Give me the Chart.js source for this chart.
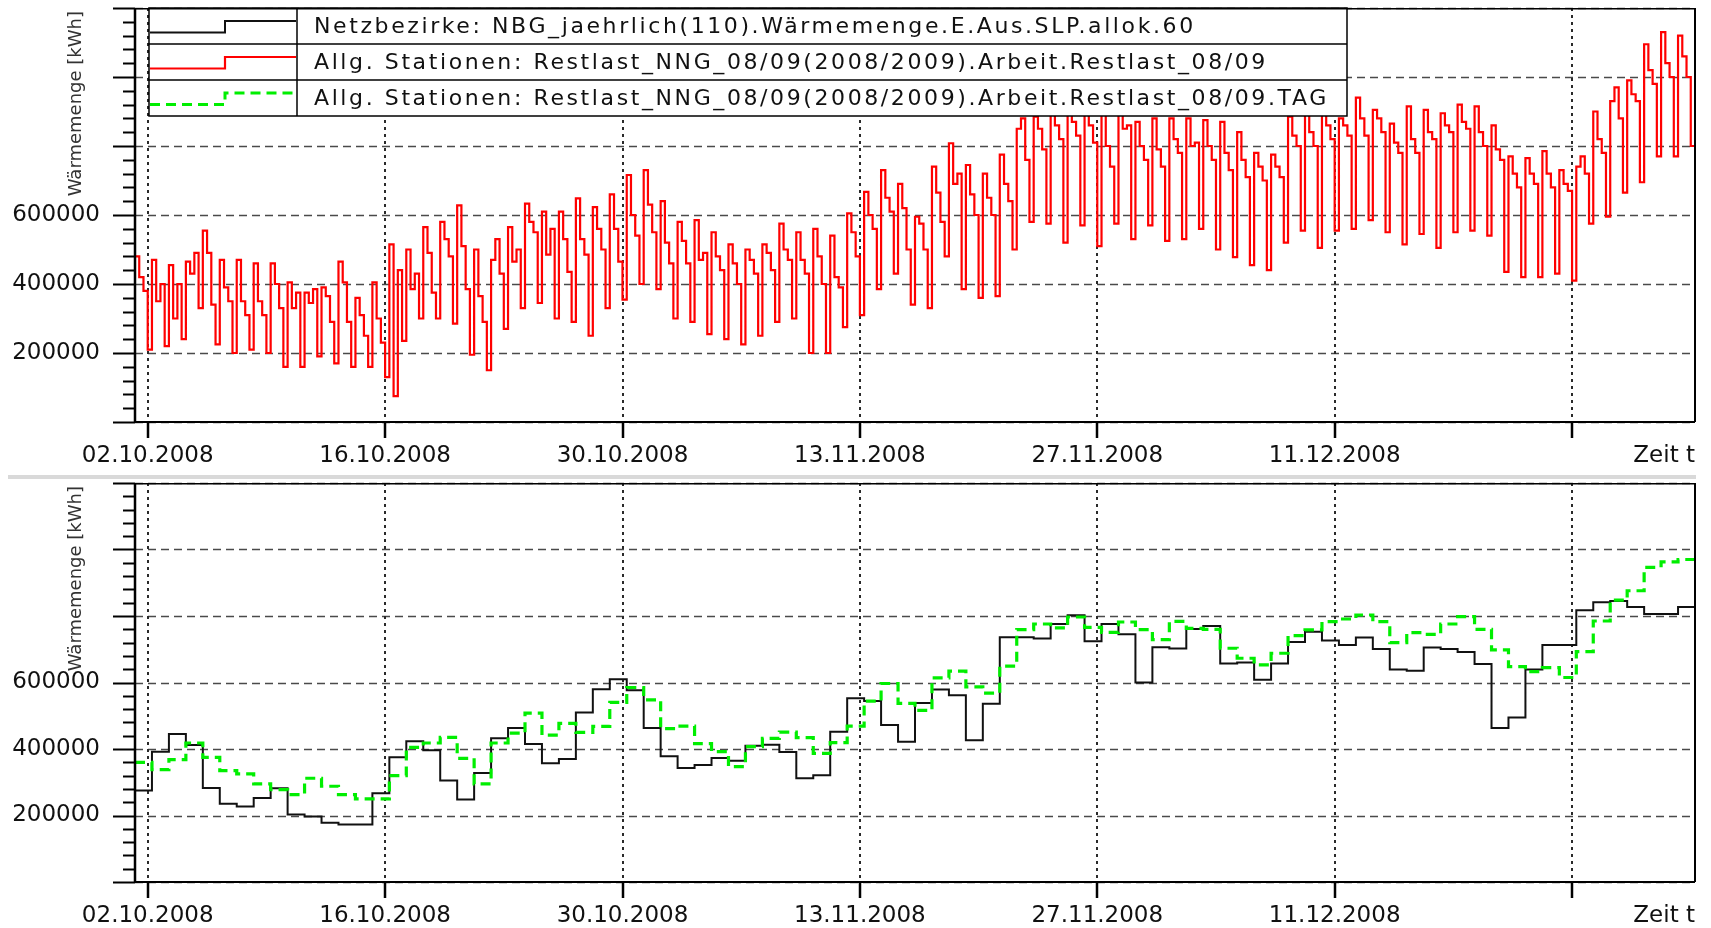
<!DOCTYPE html>
<html><head><meta charset="utf-8">
<script src="https://cdn.jsdelivr.net/npm/chart.js@4.4.1/dist/chart.umd.min.js"></script>
<style>
html,body{margin:0;padding:0;background:#fff;width:1711px;height:928px;overflow:hidden}
#top{position:absolute;left:0;top:0;width:1711px;height:477px}
#bot{position:absolute;left:0;top:477px;width:1711px;height:451px}
#sep{position:absolute;left:8px;top:475px;width:1688px;height:4px;background:#d9d9d9}
</style></head><body>
<div id="top"><canvas id="c1"></canvas></div>
<div id="sep"></div>
<div id="bot"><canvas id="c2"></canvas></div>
<script>
// ---------------- data ----------------
const axisStart = "01.10.2008 06:00";
const axisDays = 92;
const tickDates = ["02.10.2008","16.10.2008","30.10.2008","13.11.2008","27.11.2008","11.12.2008","25.12.2008"];
const tickLabels = ["02.10.2008","16.10.2008","30.10.2008","13.11.2008","27.11.2008","11.12.2008",""];
const yMajorValues = [0,200000,400000,600000,800000,1000000,1200000];
const yLabelledValues = [200000,400000,600000];
const yMinorStep = 40000;
const yTitle = "Wärmemenge [kWh]";
const xTitle = "Zeit t";
const seriesNames = [
  "Netzbezirke: NBG_jaehrlich(110).Wärmemenge.E.Aus.SLP.allok.60",
  "Allg. Stationen: Restlast_NNG_08/09(2008/2009).Arbeit.Restlast_08/09",
  "Allg. Stationen: Restlast_NNG_08/09(2008/2009).Arbeit.Restlast_08/09.TAG"
];
// Restlast, 4 blocks per gas day (06-12, 12-18, 18-24, 00-06)
const restlastBlocks = [
 [480000,420000,380000,210000],[470000,350000,400000,220000],[455000,300000,400000,240000],[465000,430000,490000,330000],[555000,490000,340000,225000],
 [470000,390000,350000,200000],[470000,350000,310000,210000],[460000,350000,310000,200000],[460000,400000,330000,160000],[405000,330000,375000,160000],
 [375000,345000,385000,190000],[390000,365000,290000,170000],[465000,405000,290000,160000],[360000,310000,250000,160000],[405000,300000,230000,130000],
 [515000,75000,440000,235000],[500000,385000,430000,300000],[565000,490000,375000,300000],[580000,530000,480000,285000],[628000,510000,385000,195000],
 [500000,365000,290000,150000],[470000,530000,430000,270000],[565000,465000,500000,330000],[633000,580000,550000,345000],[610000,485000,560000,300000],
 [610000,530000,435000,290000],[648000,530000,485000,250000],[623000,560000,500000,330000],[660000,560000,465000,355000],[716000,600000,540000,400000],
 [730000,630000,550000,385000],[640000,520000,460000,300000],[580000,525000,460000,290000],[585000,470000,490000,255000],[550000,480000,440000,240000],
 [515000,460000,400000,225000],[500000,470000,430000,250000],[515000,490000,440000,290000],[575000,500000,470000,300000],[550000,470000,430000,200000],
 [560000,480000,400000,200000],[540000,420000,390000,275000],[605000,550000,480000,310000],[667000,600000,560000,385000],[730000,650000,610000,430000],
 [690000,620000,500000,340000],[595000,575000,500000,330000],[740000,665000,580000,480000],[808000,690000,720000,385000],[745000,660000,600000,360000],
 [720000,650000,600000,365000],[775000,690000,640000,500000],[850000,880000,760000,580000],[885000,850000,790000,575000],[890000,860000,820000,520000],
 [895000,870000,830000,570000],[890000,860000,810000,510000],[890000,800000,740000,575000],[890000,850000,860000,530000],[870000,800000,760000,570000],
 [880000,790000,740000,525000],[880000,820000,780000,530000],[880000,800000,810000,560000],[875000,800000,760000,500000],[870000,780000,730000,478000],
 [840000,760000,710000,455000],[780000,740000,700000,440000],[775000,740000,710000,520000],[885000,830000,800000,555000],[890000,840000,800000,505000],
 [890000,860000,820000,555000],[880000,860000,830000,560000],[940000,880000,830000,585000],[905000,880000,840000,550000],[865000,810000,780000,515000],
 [915000,820000,780000,545000],[905000,840000,820000,505000],[895000,860000,840000,550000],[920000,870000,850000,555000],[915000,840000,800000,540000],
 [860000,790000,760000,435000],[770000,720000,680000,420000],[765000,720000,690000,420000],[785000,720000,680000,430000],[730000,690000,670000,410000],
 [740000,770000,720000,575000],[900000,820000,780000,595000],[930000,970000,880000,665000],[990000,950000,930000,695000],[1095000,1020000,980000,770000],
 [1130000,1040000,1000000,770000],[1120000,1060000,1000000,800000]
];
// Netzbezirke SLP, daily
const slpDaily = [
 275000,392000,445000,412000,283000,235000,227000,253000,282000,203000,
 197000,178000,173000,173000,267000,375000,423000,396000,305000,248000,
 328000,432000,463000,415000,357000,370000,510000,580000,610000,577000,
 463000,378000,343000,352000,373000,365000,410000,413000,391000,312000,
 321000,452000,553000,544000,472000,422000,538000,579000,562000,426000,
 536000,736000,736000,732000,776000,802000,724000,776000,745000,600000,
 706000,702000,761000,770000,657000,660000,608000,657000,722000,753000,
 726000,713000,735000,701000,639000,635000,705000,701000,692000,656000,
 463000,495000,639000,713000,713000,817000,841000,845000,827000,806000,
 806000,827000
];
// Restlast TAG, daily
const tagDaily = [
 360000,338000,368000,418000,375000,335000,325000,295000,278000,263000,
 312000,288000,263000,250000,250000,320000,405000,418000,435000,372000,
 295000,418000,448000,508000,442000,477000,450000,468000,540000,585000,
 548000,461000,469000,416000,392000,347000,407000,432000,451000,434000,
 387000,419000,469000,544000,597000,537000,516000,614000,634000,587000,
 568000,649000,759000,776000,764000,797000,766000,751000,782000,759000,
 729000,784000,763000,760000,703000,673000,653000,688000,741000,758000,
 783000,791000,803000,783000,720000,750000,745000,776000,798000,760000,
 698000,648000,633000,645000,615000,693000,785000,848000,876000,946000,
 963000,970000
];

// ---------------- helpers ----------------
function toMs(s){
  const [datePart, timePart] = s.split(' ');
  const [d,m,y] = datePart.split('.').map(Number);
  const [hh,mm] = (timePart||'00:00').split(':').map(Number);
  return Date.UTC(y, m-1, d, hh, mm);
}
const startMs = toMs(axisStart);
const tickPos = tickDates.map(s => (toMs(s) - startMs) / 864e5);
function stepPoints(values, blockDays){
  const pts = [];
  values.forEach((v,i) => { pts.push({x:i*blockDays, y:v}); pts.push({x:(i+1)*blockDays, y:v}); });
  return pts;
}
const redFlat = restlastBlocks.flat();
const redPts = stepPoints(redFlat, 1/restlastBlocks[0].length);
const blackPts = stepPoints(slpDaily, 1);
const greenPts = stepPoints(tagDaily, 1);

const FONT = 'DejaVu Sans';
const styles = [
  {color:'#111111', width:2, dash:[]},
  {color:'#ff0000', width:2.2, dash:[]},
  {color:'#00ee00', width:3.2, dash:[10,6]}
];

const decor = {
  id:'decor',
  beforeDatasetsDraw(chart, args, o){
    const {ctx, chartArea:ca, scales:{x,y}} = chart;
    ctx.save();
    ctx.strokeStyle = '#4a4a4a'; ctx.lineWidth = 1.6; ctx.setLineDash([8,5]);
    yMajorValues.forEach(v => {
      const py = Math.round(y.getPixelForValue(v)) + 0.5;
      ctx.beginPath(); ctx.moveTo(ca.left, py); ctx.lineTo(ca.right, py); ctx.stroke();
    });
    ctx.strokeStyle = '#2a2a2a'; ctx.lineWidth = 2; ctx.setLineDash([3,4]);
    tickPos.forEach(d => {
      const px = Math.round(x.getPixelForValue(d));
      ctx.beginPath(); ctx.moveTo(px, ca.top); ctx.lineTo(px, ca.bottom); ctx.stroke();
    });
    ctx.restore();
  },
  afterDatasetsDraw(chart, args, o){
    const {ctx, chartArea:ca, scales:{x,y}} = chart;
    ctx.save();
    ctx.setLineDash([]);
    // legend
    if (o.legend){
      const L = ca.left + 14, T = ca.top, W = 1198, RH = 36, SW = 148;
      ctx.fillStyle = '#fff'; ctx.fillRect(L, T, W, RH*3);
      ctx.strokeStyle = '#000'; ctx.lineWidth = 1.5;
      ctx.strokeRect(L, T, W, RH*3);
      for (let i=1;i<3;i++){ ctx.beginPath(); ctx.moveTo(L, T+RH*i); ctx.lineTo(L+W, T+RH*i); ctx.stroke(); }
      ctx.beginPath(); ctx.moveTo(L+SW, T); ctx.lineTo(L+SW, T+RH*3); ctx.stroke();
      [0,1,2].forEach(i => {
        const st = styles[i]; const ry = T + RH*i;
        ctx.save();
        ctx.strokeStyle = st.color; ctx.lineWidth = Math.min(st.width, 3); ctx.setLineDash(st.dash);
        ctx.beginPath(); ctx.moveTo(L+1, ry+24.5); ctx.lineTo(L+76, ry+24.5); ctx.lineTo(L+76, ry+13); ctx.lineTo(L+SW-1, ry+13); ctx.stroke();
        ctx.restore();
        ctx.fillStyle = '#111'; ctx.font = '22px "'+FONT+'"'; ctx.textAlign='left'; ctx.textBaseline='middle';
        try { ctx.letterSpacing = '2.6px'; } catch(e){}
        ctx.fillText(seriesNames[i], L+165, ry+RH/2+1);
        try { ctx.letterSpacing = '0px'; } catch(e){}
      });
    }
    // frame
    ctx.strokeStyle = '#000';
    ctx.lineWidth = 1.5; ctx.beginPath(); ctx.moveTo(ca.left, ca.top+0.75); ctx.lineTo(ca.right, ca.top+0.75); ctx.stroke();
    ctx.lineWidth = 2.5; ctx.beginPath(); ctx.moveTo(ca.left, ca.top); ctx.lineTo(ca.left, ca.bottom); ctx.stroke();
    ctx.lineWidth = 2; ctx.beginPath(); ctx.moveTo(ca.left, ca.bottom); ctx.lineTo(ca.right, ca.bottom); ctx.stroke();
    ctx.beginPath(); ctx.moveTo(ca.right, ca.top); ctx.lineTo(ca.right, ca.bottom); ctx.stroke();
    // y tick marks
    ctx.lineWidth = 2;
    for (let v = y.min; v <= y.max; v += yMinorStep){
      const py = Math.round(y.getPixelForValue(v)) + 0.5;
      const len = yMajorValues.includes(v) ? 22 : 12;
      ctx.beginPath(); ctx.moveTo(ca.left - len, py); ctx.lineTo(ca.left, py); ctx.stroke();
    }
    // x tick marks
    ctx.lineWidth = 2.5;
    tickPos.forEach(d => {
      const px = Math.round(x.getPixelForValue(d));
      ctx.beginPath(); ctx.moveTo(px, ca.bottom); ctx.lineTo(px, ca.bottom + 16); ctx.stroke();
    });
    // x title
    ctx.fillStyle = '#111'; ctx.font = '23px "'+FONT+'"'; ctx.textAlign = 'right'; ctx.textBaseline = 'middle';
    ctx.fillText(xTitle, ca.right, ca.bottom + 16 + 4 + 13.8);
    // y title
    ctx.save();
    ctx.translate(76, ca.top + 3); ctx.rotate(-Math.PI/2);
    ctx.fillStyle = '#333'; ctx.font = '18px "'+FONT+'"'; ctx.textAlign = 'right'; ctx.textBaseline = 'middle';
    ctx.fillText(yTitle, 0, 0);
    ctx.restore();
    ctx.restore();
  }
};

function makeChart(id, datasets, cfg){
  return new Chart(document.getElementById(id), {
    type:'line',
    data:{datasets},
    options:{
      responsive:true, maintainAspectRatio:false, animation:false, devicePixelRatio:1,
      layout:{padding:{top:cfg.padTop, right:16, left:0, bottom:0}},
      plugins:{legend:{display:false}, tooltip:{enabled:false}, decor:{legend:cfg.legend}},
      elements:{point:{radius:0}, line:{tension:0}},
      scales:{
        x:{type:'linear', min:0, max:axisDays,
           afterBuildTicks: s => { s.ticks = tickPos.map(v => ({value:v})); },
           ticks:{autoSkip:false, maxRotation:0, minRotation:0, padding:4, color:'#111', font:{family:FONT, size:23},
                  callback:(v,i) => tickLabels[i]},
           grid:{display:true, drawOnChartArea:false, drawTicks:true, tickLength:16, tickColor:'rgba(0,0,0,0)'},
           border:{display:false},
           afterFit: s => { s.height = cfg.xHeight; s.paddingLeft = 0; s.paddingRight = 0; }},
        y:{type:'linear', min:0, max:1200000,
           afterBuildTicks: s => { s.ticks = yMajorValues.map(v => ({value:v})); },
           ticks:{padding:13, color:'#111', font:{family:FONT, size:23},
                  callback: v => yLabelledValues.includes(v) ? String(v) : ''},
           grid:{display:true, drawOnChartArea:false, drawTicks:true, tickLength:22, tickColor:'rgba(0,0,0,0)'},
           border:{display:false},
           afterFit: s => { s.width = 135; s.paddingTop = 0; s.paddingBottom = 0; }}
      }
    },
    plugins:[decor]
  });
}

makeChart('c1', [
  {label:seriesNames[1], data:redPts, borderColor:styles[1].color, borderWidth:styles[1].width, fill:false}
], {padTop:8, xHeight:55, legend:true});

makeChart('c2', [
  {label:seriesNames[2], data:greenPts, borderColor:styles[2].color, borderWidth:styles[2].width, borderDash:styles[2].dash, fill:false, order:0},
  {label:seriesNames[0], data:blackPts, borderColor:styles[0].color, borderWidth:styles[0].width, fill:false, order:1}
], {padTop:6, xHeight:46, legend:false});
</script>
</body></html>
